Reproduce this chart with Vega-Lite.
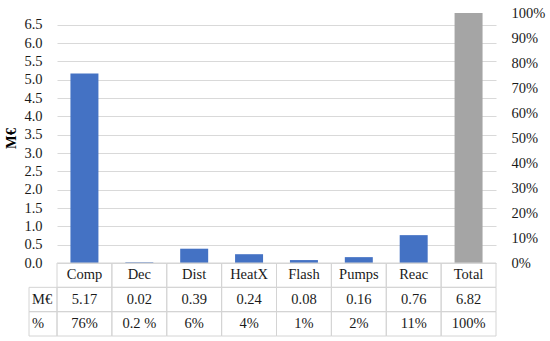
{
  "$schema": "https://vega.github.io/schema/vega-lite/v6.json",
  "padding": {"top": 5, "left": 3, "right": 5, "bottom": 5},
  "config": {"view": {"stroke": null}, "font": "'Liberation Serif', 'DejaVu Serif', serif", "text": {"font": "'Liberation Serif', 'DejaVu Serif', serif"}},
  "bounds": "flush",
  "spacing": 0,
  "columns": 2,
  "datasets": {
    "bars": [
      {"cat": "Comp", "value": 5.17, "share": 0.76, "pct": "76%"},
      {"cat": "Dec", "value": 0.02, "share": 0.002, "pct": "0.2 %"},
      {"cat": "Dist", "value": 0.39, "share": 0.06, "pct": "6%"},
      {"cat": "HeatX", "value": 0.24, "share": 0.04, "pct": "4%"},
      {"cat": "Flash", "value": 0.08, "share": 0.01, "pct": "1%"},
      {"cat": "Pumps", "value": 0.16, "share": 0.02, "pct": "2%"},
      {"cat": "Reac", "value": 0.76, "share": 0.11, "pct": "11%"},
      {"cat": "Total", "value": 6.82, "share": 1.0, "pct": "100%"}
    ],
    "rows": [
      {"row": "M€"},
      {"row": "%"}
    ]
  },
  "concat": [
    {
      "width": 28,
      "height": 250,
      "data": {"values": []},
      "mark": "point"
    },
    {
      "width": 439,
      "height": 250,
      "data": {"name": "bars"},
      "encoding": {
        "x": {"field": "cat", "type": "nominal", "sort": null, "scale": {"paddingInner": 0.49, "paddingOuter": 0.245}, "axis": null}
      },
      "layer": [
        {
          "mark": {"type": "bar"},
          "encoding": {
            "y": {
              "field": "value", "type": "quantitative",
              "scale": {"domain": [0, 6.82], "nice": false},
              "axis": {
                "values": [0, 0.5, 1, 1.5, 2, 2.5, 3, 3.5, 4, 4.5, 5, 5.5, 6, 6.5],
                "format": ".1f",
                "grid": true, "gridColor": "#d9d9d9", "gridWidth": 1,
                "domain": false, "ticks": false,
                "labelPadding": 15, "labelFontSize": 14.5, "labelColor": "#1a1a1a", "labelFont": "'Liberation Serif', 'DejaVu Serif', serif",
                "title": "M€", "titleFontSize": 14.5, "titleFontWeight": "bold", "titleColor": "#000", "titleFont": "'Liberation Serif', 'DejaVu Serif', serif", "titlePadding": 5
              }
            },
            "color": {"condition": {"test": "datum.cat === 'Total'", "value": "#A5A5A5"}, "value": "#4472C4"}
          }
        },
        {
          "mark": {"type": "bar", "opacity": 0},
          "encoding": {
            "y": {
              "field": "share", "type": "quantitative",
              "scale": {"domain": [0, 1], "nice": false},
              "axis": {
                "orient": "right",
                "values": [0, 0.1, 0.2, 0.3, 0.4, 0.5, 0.6, 0.7, 0.8, 0.9, 1],
                "format": ".0%",
                "grid": false, "domain": false, "ticks": false,
                "labelPadding": 15, "labelFontSize": 14.5, "labelColor": "#1a1a1a", "labelFont": "'Liberation Serif', 'DejaVu Serif', serif",
                "title": null
              }
            }
          }
        }
      ],
      "resolve": {"scale": {"y": "independent"}}
    },
    {
      "width": 28,
      "height": 73,
      "data": {"name": "rows"},
      "encoding": {
        "y": {"field": "row", "type": "nominal", "scale": {"domain": ["head", "M€", "%"], "paddingInner": 0, "paddingOuter": 0}, "axis": null}
      },
      "layer": [
        {"mark": {"type": "rect", "fill": null, "stroke": "#d4d4d4", "strokeWidth": 1}},
        {"mark": {"type": "text", "fontSize": 14.5, "align": "left", "dx": -11, "color": "#1a1a1a"}, "encoding": {"text": {"field": "row"}}}
      ]
    },
    {
      "width": 439,
      "height": 73,
      "data": {"name": "bars"},
      "encoding": {
        "x": {"field": "cat", "type": "nominal", "sort": null, "scale": {"paddingInner": 0, "paddingOuter": 0}, "axis": null}
      },
      "layer": [
        {"mark": {"type": "rect", "fill": null, "stroke": "#d4d4d4", "strokeWidth": 1}, "encoding": {"y": {"datum": "head", "type": "nominal", "scale": {"domain": ["head", "M€", "%"], "paddingInner": 0, "paddingOuter": 0}, "axis": null}}},
        {"mark": {"type": "rect", "fill": null, "stroke": "#d4d4d4", "strokeWidth": 1}, "encoding": {"y": {"datum": "M€", "type": "nominal"}}},
        {"mark": {"type": "rect", "fill": null, "stroke": "#d4d4d4", "strokeWidth": 1}, "encoding": {"y": {"datum": "%", "type": "nominal"}}},
        {"mark": {"type": "text", "fontSize": 14.5, "color": "#1a1a1a"}, "encoding": {"y": {"datum": "head", "type": "nominal"}, "text": {"field": "cat"}}},
        {"mark": {"type": "text", "fontSize": 14.5, "color": "#1a1a1a"}, "encoding": {"y": {"datum": "M€", "type": "nominal"}, "text": {"field": "value", "format": ".2f"}}},
        {"mark": {"type": "text", "fontSize": 14.5, "color": "#1a1a1a"}, "encoding": {"y": {"datum": "%", "type": "nominal"}, "text": {"field": "pct"}}}
      ]
    }
  ]
}
